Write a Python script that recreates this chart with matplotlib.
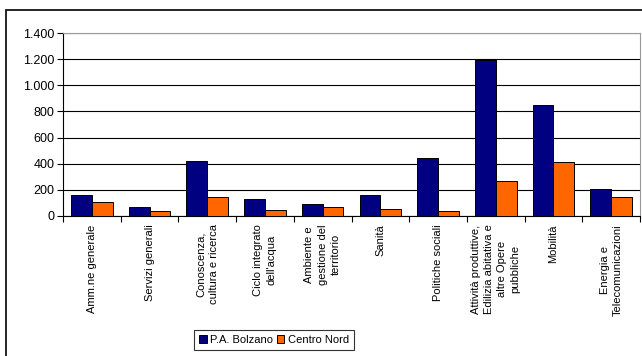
import matplotlib.pyplot as plt
import numpy as np
from matplotlib.patches import Rectangle

plt.rcParams['font.family'] = ['Liberation Sans', 'DejaVu Sans']

categorie = ["Amm.ne generale", "Servizi generali", "Conoscenza,\ncultura e ricerca",
             "Ciclo integrato\ndell'acqua", "Ambiente e\ngestione del\nterritorio",
             "Sanità", "Politiche sociali",
             "Attività produttive,\nEdilizia abitativa e\naltre Opere\npubbliche",
             "Mobilità", "Energia e\nTelecomunicazioni"]
bolzano = [160, 71, 420, 127, 92, 160, 440, 1195, 853, 206]
centro_nord = [105, 40, 143, 46, 71, 53, 38, 267, 410, 147]

fig = plt.figure(figsize=(6.42, 3.56), dpi=100)
ax = fig.add_axes([63 / 642, 1 - 216 / 356, (640 - 63) / 642, (216 - 33) / 356])

x = np.arange(len(categorie))
w = 0.36
ax.bar(x - w / 2, bolzano, w, color='#000080', edgecolor='black', linewidth=0.7,
       label='P.A. Bolzano', zorder=3)
ax.bar(x + w / 2, centro_nord, w, color='#FF6600', edgecolor='black', linewidth=0.7,
       label='Centro Nord', zorder=3)

ax.set_xlim(-0.5, len(categorie) - 0.5)
ax.set_ylim(0, 1400)
ax.set_yticks(np.arange(0, 1401, 200))
ax.set_yticklabels(['0', '200', '400', '600', '800', '1.000', '1.200', '1.400'], fontsize=9)
ax.yaxis.grid(True, color='black', linewidth=0.8, zorder=0)

# etichette delle categorie ruotate, tacche tra le categorie
ax.set_xticks(x)
ax.set_xticklabels(categorie, rotation=90, fontsize=8, va='top', ha='center',
                   multialignment='center', linespacing=1.4)
ax.tick_params(axis='x', which='major', length=0, pad=6)
ax.set_xticks(np.arange(-0.5, len(categorie), 1), minor=True)
ax.tick_params(axis='x', which='minor', length=4, width=0.8, direction='out')
ax.tick_params(axis='y', length=4, width=0.8, direction='out', pad=2)

ax.spines['top'].set_color('#999999')
ax.spines['right'].set_color('#999999')
ax.spines['left'].set_color('black')
ax.spines['bottom'].set_color('black')

leg = fig.legend(loc='center', bbox_to_anchor=(274 / 642, 1 - 340 / 356), ncol=2,
                 fontsize=8, frameon=True, fancybox=False, handlelength=0.7,
                 handleheight=0.7, handletextpad=0.3, columnspacing=0.3,
                 borderpad=0.45, borderaxespad=0)
leg.get_frame().set_edgecolor('black')
leg.get_frame().set_linewidth(0.8)

# cornice esterna del grafico
fig.patches.append(Rectangle((6 / 642, -0.1), 1.1, 1 - 10 / 356 + 0.1,
                             transform=fig.transFigure, fill=False,
                             edgecolor='black', linewidth=1.2))

fig.savefig('out.png', dpi=100)
